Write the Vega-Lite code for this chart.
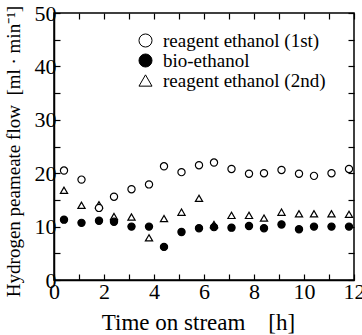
{
  "$schema": "https://vega.github.io/schema/vega-lite/v6.json",
  "width": 300,
  "height": 267,
  "autosize": {"type": "none"},
  "padding": {"left": 54, "top": 13, "right": 8, "bottom": 55},
  "background": "white",
  "title": {"text": "y).", "anchor": "start", "frame": "group", "dx": -64, "offset": 6, "baseline": "alphabetic", "font": "Liberation Serif", "fontSize": 22, "fontWeight": "normal", "color": "black"},
  "config": {
    "view": {"stroke": "black", "strokeWidth": 1.5},
    "axis": {
      "domainColor": "black", "domainWidth": 1.5, "tickColor": "black", "tickWidth": 1.2, "tickSize": -6,
      "grid": false, "labelFont": "Liberation Serif", "labelColor": "#000000", "labelFontSize": 22,
      "titleFont": "Liberation Serif", "titleColor": "#000000", "titleFontWeight": "normal",
      "labelFlush": false, "labelOverlap": false, "labelBound": false
    },
    "legend": {"labelLimit": 400}
  },
  "data": {"values": [
    {"series": "reagent ethanol (2nd)", "x": 0.4, "y": 16.8},
    {"series": "reagent ethanol (2nd)", "x": 1.1, "y": 14.0},
    {"series": "reagent ethanol (2nd)", "x": 1.8, "y": 14.1},
    {"series": "reagent ethanol (2nd)", "x": 2.4, "y": 11.9},
    {"series": "reagent ethanol (2nd)", "x": 3.1, "y": 11.8},
    {"series": "reagent ethanol (2nd)", "x": 3.8, "y": 7.9},
    {"series": "reagent ethanol (2nd)", "x": 4.4, "y": 11.5},
    {"series": "reagent ethanol (2nd)", "x": 5.1, "y": 12.7},
    {"series": "reagent ethanol (2nd)", "x": 5.8, "y": 15.3},
    {"series": "reagent ethanol (2nd)", "x": 6.4, "y": 10.4},
    {"series": "reagent ethanol (2nd)", "x": 7.1, "y": 12.1},
    {"series": "reagent ethanol (2nd)", "x": 7.8, "y": 12.1},
    {"series": "reagent ethanol (2nd)", "x": 8.4, "y": 11.6},
    {"series": "reagent ethanol (2nd)", "x": 9.1, "y": 12.7},
    {"series": "reagent ethanol (2nd)", "x": 9.8, "y": 12.4},
    {"series": "reagent ethanol (2nd)", "x": 10.4, "y": 12.4},
    {"series": "reagent ethanol (2nd)", "x": 11.1, "y": 12.4},
    {"series": "reagent ethanol (2nd)", "x": 11.8, "y": 12.3},
    {"series": "reagent ethanol (1st)", "x": 0.4, "y": 20.5},
    {"series": "reagent ethanol (1st)", "x": 1.1, "y": 18.8},
    {"series": "reagent ethanol (1st)", "x": 1.8, "y": 13.5},
    {"series": "reagent ethanol (1st)", "x": 2.4, "y": 15.6},
    {"series": "reagent ethanol (1st)", "x": 3.1, "y": 17.0},
    {"series": "reagent ethanol (1st)", "x": 3.8, "y": 17.9},
    {"series": "reagent ethanol (1st)", "x": 4.4, "y": 21.3},
    {"series": "reagent ethanol (1st)", "x": 5.1, "y": 20.2},
    {"series": "reagent ethanol (1st)", "x": 5.8, "y": 21.5},
    {"series": "reagent ethanol (1st)", "x": 6.4, "y": 22.0},
    {"series": "reagent ethanol (1st)", "x": 7.1, "y": 20.8},
    {"series": "reagent ethanol (1st)", "x": 7.8, "y": 19.9},
    {"series": "reagent ethanol (1st)", "x": 8.4, "y": 20.0},
    {"series": "reagent ethanol (1st)", "x": 9.1, "y": 20.6},
    {"series": "reagent ethanol (1st)", "x": 9.8, "y": 19.9},
    {"series": "reagent ethanol (1st)", "x": 10.4, "y": 19.5},
    {"series": "reagent ethanol (1st)", "x": 11.1, "y": 20.0},
    {"series": "reagent ethanol (1st)", "x": 11.8, "y": 20.8},
    {"series": "bio-ethanol", "x": 0.4, "y": 11.3},
    {"series": "bio-ethanol", "x": 1.1, "y": 10.7},
    {"series": "bio-ethanol", "x": 1.8, "y": 11.1},
    {"series": "bio-ethanol", "x": 2.4, "y": 10.9},
    {"series": "bio-ethanol", "x": 3.1, "y": 10.0},
    {"series": "bio-ethanol", "x": 3.8, "y": 10.0},
    {"series": "bio-ethanol", "x": 4.4, "y": 6.2},
    {"series": "bio-ethanol", "x": 5.1, "y": 9.0},
    {"series": "bio-ethanol", "x": 5.8, "y": 9.7},
    {"series": "bio-ethanol", "x": 6.4, "y": 9.9},
    {"series": "bio-ethanol", "x": 7.1, "y": 9.8},
    {"series": "bio-ethanol", "x": 7.8, "y": 10.1},
    {"series": "bio-ethanol", "x": 8.4, "y": 9.7},
    {"series": "bio-ethanol", "x": 9.1, "y": 10.4},
    {"series": "bio-ethanol", "x": 9.8, "y": 9.5},
    {"series": "bio-ethanol", "x": 10.4, "y": 10.0},
    {"series": "bio-ethanol", "x": 11.1, "y": 10.0},
    {"series": "bio-ethanol", "x": 11.8, "y": 10.0}
  ]},
  "layer": [
    {
      "mark": {"type": "point", "strokeWidth": 1.2, "size": 52, "opacity": 1},
      "encoding": {
        "x": {"field": "x", "type": "quantitative", "scale": {"domain": [0, 12], "nice": false},
          "axis": {"orient": "bottom", "values": [0,1,2,3,4,5,6,7,8,9,10,11,12], "labelExpr": "datum.value % 2 == 0 ? datum.label : ''", "labelPadding": 7, "labelColor": "#000000",
            "title": "Time on stream\u00a0\u00a0\u00a0\u00a0[h]", "titleFontSize": 23, "titleX": 144, "titleY": 49, "titleBaseline": "alphabetic", "titleAlign": "center", "titleColor": "#000000"}},
        "y": {"field": "y", "type": "quantitative", "scale": {"domain": [0, 50], "nice": false},
          "axis": {"orient": "left", "values": [0,5,10,15,20,25,30,35,40,45,50], "labelExpr": "datum.value % 10 == 0 ? datum.label : ''", "labelPadding": 4, "labelColor": "#000000",
            "title": "Hydrogen peameate flow\u00a0\u00a0[ml \u00b7 min\u207b\u00b9]", "titleFontSize": 19, "titleAngle": -90, "titleX": -34.5, "titleY": 138, "titleBaseline": "alphabetic", "titleAlign": "center", "titleColor": "#000000"}},
        "shape": {"field": "series", "type": "nominal",
          "scale": {"domain": ["reagent ethanol (1st)", "bio-ethanol", "reagent ethanol (2nd)"], "range": ["circle", "circle", "triangle-up"]},
          "legend": {"title": null, "orient": "none", "legendX": 82, "legendY": 18, "padding": 0, "symbolSize": 170, "symbolStrokeWidth": 1, "labelFont": "Liberation Serif", "labelFontSize": 19, "labelColor": "#000000", "labelOffset": 8, "rowPadding": -1, "labelLimit": 400}},
        "fill": {"field": "series", "type": "nominal",
          "scale": {"domain": ["reagent ethanol (1st)", "bio-ethanol", "reagent ethanol (2nd)"], "range": ["white", "black", "white"]},
          "legend": {"title": null, "orient": "none", "legendX": 82, "legendY": 18, "padding": 0, "symbolSize": 170, "symbolStrokeWidth": 1, "labelFont": "Liberation Serif", "labelFontSize": 19, "labelColor": "#000000", "labelOffset": 8, "rowPadding": -1, "labelLimit": 400}},
        "stroke": {"field": "series", "type": "nominal",
          "scale": {"domain": ["reagent ethanol (1st)", "bio-ethanol", "reagent ethanol (2nd)"], "range": ["black", "black", "black"]},
          "legend": {"title": null, "orient": "none", "legendX": 82, "legendY": 18, "padding": 0, "symbolSize": 170, "symbolStrokeWidth": 1, "labelFont": "Liberation Serif", "labelFontSize": 19, "labelColor": "#000000", "labelOffset": 8, "rowPadding": -1, "labelLimit": 400}}
      }
    },
    {
      "mark": {"type": "point", "opacity": 0},
      "encoding": {
        "x": {"field": "x", "type": "quantitative", "axis": {"orient": "top", "values": [0,1,2,3,4,5,6,7,8,9,10,11,12], "labels": false, "domain": false, "title": null}},
        "y": {"field": "y", "type": "quantitative", "axis": {"orient": "right", "values": [0,5,10,15,20,25,30,35,40,45,50], "labels": false, "domain": false, "title": null}}
      }
    }
  ],
  "resolve": {"axis": {"x": "independent", "y": "independent"}}
}
